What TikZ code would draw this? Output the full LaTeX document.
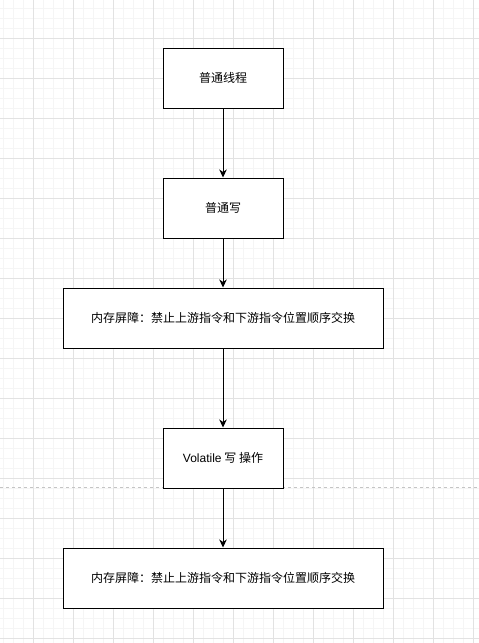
\documentclass[tikz,border=0pt]{standalone}
\usepackage{fontspec}
\setmainfont{Liberation Sans}
\newfontfamily\cjk{Noto Sans CJK SC}
\usetikzlibrary{arrows.meta}
\definecolor{gridminor}{HTML}{F5F5F5}
\definecolor{gridmajor}{HTML}{E2E2E2}
\definecolor{dashgray}{HTML}{C4C4C4}
\tikzset{
  box/.style={draw=black, line width=1pt, fill=white, minimum height=60pt, inner sep=0pt, font=\fontsize{12}{14}\selectfont\cjk},
  smallbox/.style={box, minimum width=120pt},
  widebox/.style={box, minimum width=320pt},
  conn/.style={draw=black, line width=1pt, -{Stealth[length=8pt,width=7.5pt,inset=2.5pt]}},
}
\begin{document}
\begin{tikzpicture}[x=1pt,y=-1pt]
\useasboundingbox (0,0) rectangle (479,643);
\fill[white] (0,0) rectangle (479,643);
% grid
\foreach \x in {3,13,...,479} \draw[gridminor, line width=1pt] (\x,0) -- (\x,643);
\foreach \y in {8,18,...,643} \draw[gridminor, line width=1pt] (0,\y) -- (479,\y);
\foreach \x in {33,73,...,479} \draw[gridmajor, line width=1pt] (\x,0) -- (\x,643);
\foreach \y in {38,78,...,643} \draw[gridmajor, line width=1pt] (0,\y) -- (479,\y);
% dashed line
\draw[dashgray, line width=1pt, dash pattern=on 3pt off 3pt] (0,487.5) -- (479,487.5);
% nodes
\node[smallbox] (n1) at (223,78) {普通线程};
\node[smallbox] (n2) at (223,208) {普通写};
\node[widebox] (n3) at (223,318) {内存屏障：禁止上游指令和下游指令位置顺序交换};
\node[smallbox] (n4) at (223,458) {{\fontspec{Liberation Sans}Volatile} 写 操作};
\node[widebox] (n5) at (223,578) {内存屏障：禁止上游指令和下游指令位置顺序交换};
% connectors
\draw[conn] (n1) -- (n2);
\draw[conn] (n2) -- (n3);
\draw[conn] (n3) -- (n4);
\draw[conn] (n4) -- (n5);
\end{tikzpicture}
\end{document}
